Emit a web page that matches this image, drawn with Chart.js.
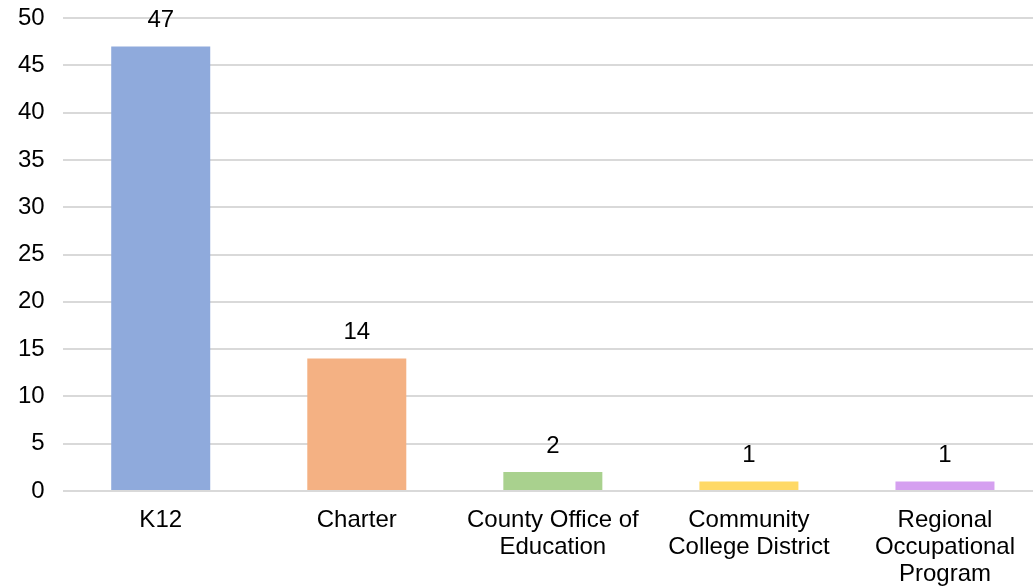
<!DOCTYPE html>
<html>
<head>
<meta charset="utf-8">
<script src="https://cdn.jsdelivr.net/npm/chart.js@4/dist/chart.umd.min.js"></script>
<style>
html,body{margin:0;padding:0;background:#fff;overflow:hidden;}
#wrap{width:1043px;height:587px;position:relative;}
</style>
</head>
<body>
<div id="wrap"><canvas id="c"></canvas></div>
<script>
const categories = [
  "K12",
  "Charter",
  ["County Office of", "Education"],
  ["Community", "College District"],
  ["Regional", "Occupational", "Program"]
];
const values = [47, 14, 2, 1, 1];
const barColors = ["#8FAADC", "#F4B183", "#A9D18E", "#FFD966", "#D5A0F0"];
const yTicks = { min: 0, max: 50, step: 5 };

const FONT = '"Liberation Sans", Arial, sans-serif';

const valueLabels = {
  id: 'valueLabels',
  afterDatasetsDraw(chart) {
    const ctx = chart.ctx;
    const meta = chart.getDatasetMeta(0);
    ctx.save();
    ctx.font = '24px ' + FONT;
    ctx.fillStyle = '#000';
    ctx.textAlign = 'center';
    ctx.textBaseline = 'middle';
    meta.data.forEach((bar, i) => {
      ctx.fillText(String(values[i]), bar.x, bar.y - 26);
    });
    ctx.restore();
  }
};

new Chart(document.getElementById('c'), {
  type: 'bar',
  data: {
    labels: categories,
    datasets: [{
      data: values,
      backgroundColor: barColors,
      borderWidth: 0,
      barPercentage: 0.505,
      categoryPercentage: 1.0
    }]
  },
  options: {
    responsive: true,
    maintainAspectRatio: false,
    animation: false,
    layout: { padding: { top: 0, right: 0, left: 0, bottom: -17 } },
    plugins: { legend: { display: false }, tooltip: { enabled: false } },
    scales: {
      x: {
        grid: { display: false, drawTicks: false },
        border: { display: false },
        afterFit(scale) { scale.paddingLeft = 0; scale.paddingRight = 0; },
        ticks: {
          color: '#000',
          font: { family: FONT, size: 24, lineHeight: 1.125 },
          padding: 16,
          maxRotation: 0,
          autoSkip: false
        }
      },
      y: {
        min: yTicks.min,
        max: yTicks.max,
        grid: { color: '#d9d9d9', lineWidth: 2, drawTicks: false },
        border: { display: false },
        afterFit(scale) { scale.paddingTop = 18; scale.paddingBottom = 14; },
        ticks: {
          stepSize: yTicks.step,
          color: '#000',
          font: { family: FONT, size: 24 },
          padding: 18
        }
      }
    }
  },
  plugins: [valueLabels]
});
</script>
</body>
</html>
